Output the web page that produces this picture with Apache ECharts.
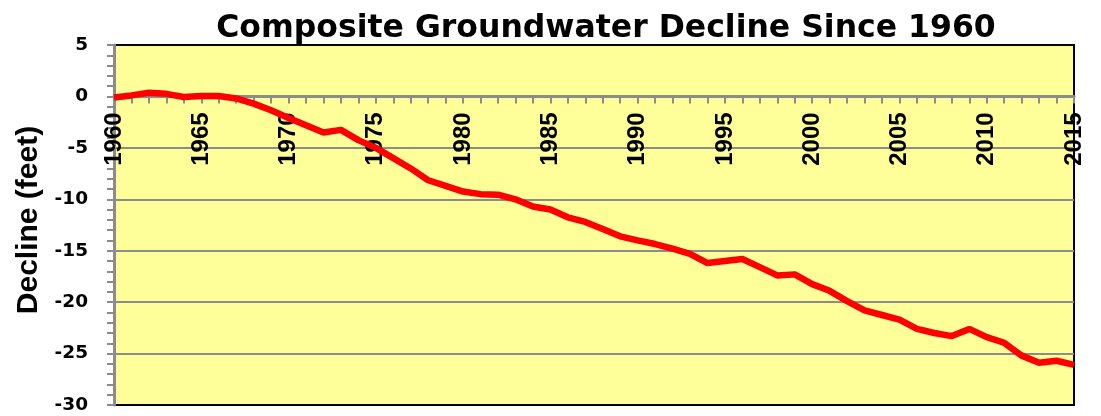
<!DOCTYPE html>
<html>
<head>
<meta charset="utf-8">
<script src="https://cdn.jsdelivr.net/npm/echarts@6/dist/echarts.min.js"></script>
<style>
html,body{margin:0;padding:0;background:#fff;}
#chart{width:1101px;height:416px;}
</style>
</head>
<body>
<div id="chart"></div>
<script>
const titleText = 'Composite Groundwater Decline Since 1960';
const yAxisName = 'Decline (feet)';
const years = [1960,1961,1962,1963,1964,1965,1966,1967,1968,1969,
               1970,1971,1972,1973,1974,1975,1976,1977,1978,1979,
               1980,1981,1982,1983,1984,1985,1986,1987,1988,1989,
               1990,1991,1992,1993,1994,1995,1996,1997,1998,1999,
               2000,2001,2002,2003,2004,2005,2006,2007,2008,2009,
               2010,2011,2012,2013,2014,2015];
const decline = [-0.1,0.1,0.35,0.25,-0.05,0.05,0.05,-0.2,-0.7,-1.35,
                 -2.1,-2.8,-3.5,-3.25,-4.25,-5.0,-6.0,-7.0,-8.15,-8.7,
                 -9.25,-9.5,-9.55,-10.0,-10.7,-11.0,-11.75,-12.2,-12.9,-13.6,
                 -14.0,-14.35,-14.8,-15.3,-16.2,-16.0,-15.8,-16.6,-17.4,-17.3,
                 -18.25,-18.9,-19.9,-20.8,-21.25,-21.7,-22.6,-23.0,-23.3,-22.6,
                 -23.4,-23.95,-25.2,-25.9,-25.7,-26.1];
const xMin = 1960, xMax = 2015, xStep = 5;
const yMin = -30, yMax = 5, yStep = 5;

const seriesData = years.map((y, i) => [y, decline[i]]);
const gray = '#8c8c8c';

const gridTop = 45, gridBottom = 11, chartH = 416;
const plotH = chartH - gridTop - gridBottom;
// move the x axis (line, ticks, labels) up to the zero line
const zeroOffset = -plotH * (0 - yMin) / (yMax - yMin);

const chart = echarts.init(document.getElementById('chart'), null, {renderer: 'canvas'});
chart.setOption({
  animation: false,
  backgroundColor: '#ffffff',
  title: {
    text: titleText,
    left: 606,
    top: 13,
    padding: 0,
    textAlign: 'center',
    textStyle: {fontFamily: 'DejaVu Sans', fontWeight: 'bold', fontSize: 31.5, color: '#000'}
  },
  grid: {
    left: 114, right: 27, top: gridTop, bottom: gridBottom,
    containLabel: false,
    outerBoundsMode: 'none',
    show: true,
    backgroundColor: '#FFFF99',
    borderColor: '#000',
    borderWidth: 2
  },
  xAxis: {
    type: 'value',
    position: 'bottom',
    offset: zeroOffset,
    min: xMin, max: xMax, interval: xStep,
    axisLine: {onZero: false, lineStyle: {color: gray, width: 3}},
    axisTick: {show: true, length: 7, lineStyle: {color: gray, width: 2}},
    minorTick: {show: true, splitNumber: 5, length: 7, lineStyle: {color: gray, width: 2}},
    splitLine: {show: false},
    axisLabel: {
      rotate: 90, margin: 16,
      fontFamily: 'Liberation Sans', fontWeight: 'bold', fontSize: 24, color: '#000',
      formatter: v => String(v)
    }
  },
  yAxis: {
    type: 'value',
    min: yMin, max: yMax, interval: yStep,
    name: yAxisName,
    nameLocation: 'middle',
    nameGap: 64,
    nameTextStyle: {fontFamily: 'Liberation Sans', fontWeight: 'bold', fontSize: 30, color: '#000', padding: [0, 0, 0, 10]},
    axisLine: {show: true, lineStyle: {color: gray, width: 3}},
    axisTick: {show: true, length: 7, lineStyle: {color: gray, width: 2}},
    minorTick: {show: true, splitNumber: 5, length: 7, lineStyle: {color: gray, width: 2}},
    splitLine: {show: true, showMinLine: false, showMaxLine: false, lineStyle: {color: gray, width: 2}},
    axisLabel: {margin: 26, fontFamily: 'DejaVu Sans', fontWeight: 'bold', fontSize: 18.5, color: '#000', padding: [4, 0, 0, 0]}
  },
  series: [{
    type: 'line',
    data: seriesData,
    showSymbol: false,
    symbol: 'none',
    smooth: false,
    lineStyle: {color: '#FF0000', width: 6.5},
    z: 5
  }]
});
</script>
</body>
</html>
